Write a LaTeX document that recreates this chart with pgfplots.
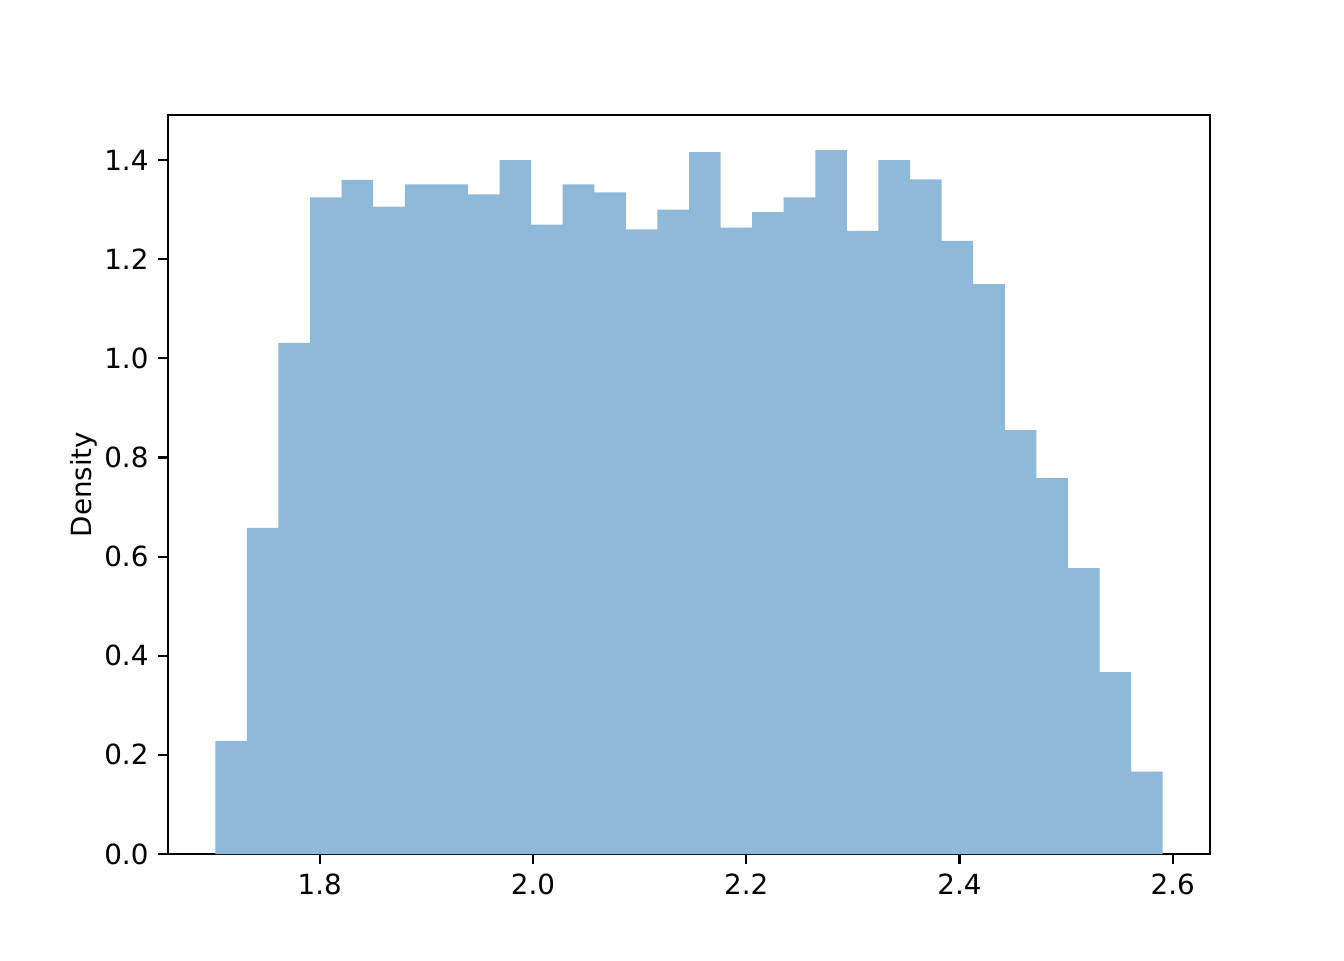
\documentclass[border=0pt]{standalone}
\usepackage{fontspec}
\setmainfont{DejaVu Sans}
\usepackage{pgfplots}
\pgfplotsset{compat=1.18}
\definecolor{histblue}{RGB}{143,185,216}
\begin{document}
\begin{tikzpicture}
\path[use as bounding box] (0pt,0pt) rectangle (483.84pt,345.6pt);
\begin{axis}[
  at={(60.48pt,38.16pt)}, anchor=south west,
  scale only axis, width=375.12pt, height=266.04pt,
  xmin=1.6576, xmax=2.6350,
  ymin=0, ymax=1.491,
  axis line style={line width=0.8pt},
  every tick/.style={black, line width=0.8pt},
  tick align=outside, major tick length=3.5pt,
  xtick pos=bottom, ytick pos=left,
  xtick={1.8,2.0,2.2,2.4,2.6},
  ytick={0,0.2,0.4,0.6,0.8,1.0,1.2,1.4},
  /pgf/number format/assume math mode=true,
  xticklabel style={/pgf/number format/fixed, /pgf/number format/fixed zerofill, /pgf/number format/precision=1, font=\fontsize{10}{12}\selectfont},
  yticklabel style={/pgf/number format/fixed, /pgf/number format/fixed zerofill, /pgf/number format/precision=1, font=\fontsize{10}{12}\selectfont},
  ylabel={Density},
  ylabel style={font=\fontsize{10}{12}\selectfont},
  every axis y label/.style={at={(ticklabel cs:0.5)}, rotate=90, anchor=south, yshift=-4.5pt},
]
\addplot[ybar interval, fill=histblue, draw=none] coordinates {
(1.70200,0.228) (1.73162,0.658) (1.76124,1.031) (1.79086,1.325)
(1.82048,1.360) (1.85010,1.306) (1.87972,1.351) (1.90934,1.351)
(1.93896,1.331) (1.96858,1.400) (1.99820,1.270) (2.02782,1.351)
(2.05744,1.335) (2.08706,1.260) (2.11668,1.300) (2.14630,1.416)
(2.17592,1.264) (2.20554,1.295) (2.23516,1.325) (2.26478,1.420)
(2.29440,1.257) (2.32402,1.400) (2.35364,1.361) (2.38326,1.237)
(2.41288,1.150) (2.44250,0.855) (2.47212,0.759) (2.50174,0.577)
(2.53136,0.367) (2.56098,0.166) (2.59060,0.166)
};
\end{axis}
\end{tikzpicture}
\end{document}
